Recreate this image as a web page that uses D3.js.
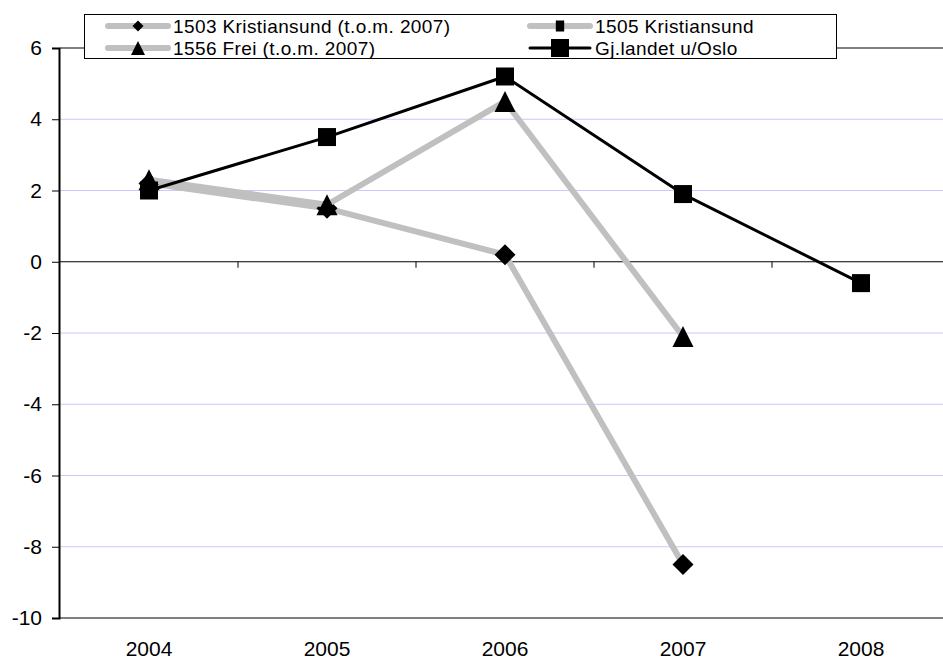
<!DOCTYPE html>
<html><head><meta charset="utf-8">
<script src="https://cdn.jsdelivr.net/npm/d3@7"></script>
<style>body{margin:0;background:#fff}svg{display:block}text{font-family:"Liberation Sans",Arial,sans-serif;fill:#000}</style>
</head><body><svg id="c" width="943" height="659"></svg>
<script>
const years = ["2004","2005","2006","2007","2008"];
const yTicks = [-10,-8,-6,-4,-2,0,2,4,6];
const k1503 = [2.2, 1.5, 0.2, -8.5, null];
const k1505 = [null, null, null, null, -0.6];
const frei1556 = [2.3, 1.6, 4.5, -2.1, null];
const gjLandet = [2.0, 3.5, 5.2, 1.9, -0.6];
const seriesNames = ["1503 Kristiansund  (t.o.m. 2007)","1505 Kristiansund","1556 Frei (t.o.m. 2007)","Gj.landet u/Oslo"];

const svg = d3.select("#c");
const L=60, T=48, B=618, band=178;
const x = d3.scaleBand().domain(years).range([L, L+band*years.length]).paddingInner(0).paddingOuter(0);
const cx = d => x(d)+x.bandwidth()/2;
const y = d3.scaleLinear().domain([-10,6]).range([B,T]);
const R = L+band*years.length;
const FS = "21px";

// gridlines
svg.append("g").selectAll("line").data(yTicks.filter(v=>v!==0 && v!==-10 && v!==6)).join("line")
  .attr("x1",L).attr("x2",R).attr("y1",d=>y(d)).attr("y2",d=>y(d))
  .attr("stroke","#c8c8ff").attr("stroke-width",1);
// top & bottom border
svg.append("line").attr("x1",L).attr("x2",R).attr("y1",y(6)).attr("y2",y(6)).attr("stroke","#808080").attr("stroke-width",2);
svg.append("line").attr("x1",L).attr("x2",R).attr("y1",y(-10)).attr("y2",y(-10)).attr("stroke","#808080").attr("stroke-width",2);

// y axis
const yAxis = d3.axisLeft(y).tickValues(yTicks).tickSize(7).tickPadding(10).tickFormat(d=>String(d));
const gy = svg.append("g").attr("transform",`translate(${L-1},0)`).call(yAxis);
gy.select(".domain").attr("stroke","#000").attr("stroke-width",2);
gy.selectAll(".tick line").attr("stroke","#000");
gy.selectAll("text").attr("font-size",FS).attr("font-family","Liberation Sans, Arial, sans-serif").attr("fill","#000");

// zero axis with ticks at category boundaries
const gx = svg.append("g").attr("transform",`translate(0,${y(0)})`);
gx.append("line").attr("x1",L).attr("x2",R).attr("stroke","#000").attr("stroke-width",1);
gx.selectAll("line.t").data(years).join("line").attr("class","t")
  .attr("x1",d=>x(d)+band).attr("x2",d=>x(d)+band).attr("y1",0).attr("y2",6).attr("stroke","#000");
// category labels at bottom
svg.append("g").selectAll("text").data(years).join("text")
  .attr("x",d=>cx(d)).attr("y",B+38).attr("text-anchor","middle").attr("font-size",FS).text(d=>d);

const line = d3.line().defined(d=>d.v!==null).x(d=>cx(d.k)).y(d=>y(d.v));
const toPts = arr => years.map((k,i)=>({k, v:arr[i]}));

function marker(g, type, px, py, s){
  if(type==="diamond"){
    g.append("path").attr("d",`M${px},${py-s/2}L${px+s/2},${py}L${px},${py+s/2}L${px-s/2},${py}Z`).attr("fill","#000");
  } else if(type==="triangle"){
    g.append("path").attr("d",`M${px},${py-s/2}L${px+s/2},${py+s/2}L${px-s/2},${py+s/2}Z`).attr("fill","#000");
  } else if(type==="square"){
    g.append("rect").attr("x",px-s/2).attr("y",py-s/2).attr("width",s).attr("height",s).attr("fill","#000");
  } else if(type==="smallsq"){
    g.append("rect").attr("x",px-s*0.38).attr("y",py-s/2).attr("width",s*0.76).attr("height",s).attr("fill","#000");
  }
}

const series = [
  {name:seriesNames[0], data:k1503, color:"#c0c0c0", w:6, m:"diamond", ms:21},
  {name:seriesNames[1], data:k1505, color:"#c0c0c0", w:6, m:"smallsq", ms:11},
  {name:seriesNames[2], data:frei1556, color:"#c0c0c0", w:6, m:"triangle", ms:21},
  {name:seriesNames[3], data:gjLandet, color:"#000", w:3, m:"square", ms:18}
];
const gs = svg.append("g");
series.forEach(s=>{
  const g = gs.append("g");
  g.append("path").datum(toPts(s.data)).attr("d",line).attr("fill","none")
   .attr("stroke",s.color).attr("stroke-width",s.w).attr("stroke-linejoin","round");
  toPts(s.data).filter(d=>d.v!==null).forEach(d=>marker(g,s.m,cx(d.k),y(d.v),s.ms));
});

// legend
const lg = svg.append("g");
lg.append("rect").attr("x",84.5).attr("y",14.5).attr("width",752).attr("height",44).attr("fill","#fff").attr("stroke","#000").attr("stroke-width",1);
const legPos = [
  {x:108, y:26, m:"diamond", ms:11},
  {x:530, y:26, m:"smallsq", ms:11},
  {x:108, y:48, m:"triangle", ms:14},
  {x:530, y:48, m:"square", ms:18}
];
series.forEach((s,i)=>{
  const p = legPos[i];
  lg.append("line").attr("x1",p.x).attr("x2",p.x+60).attr("y1",p.y).attr("y2",p.y)
    .attr("stroke",s.color).attr("stroke-width",s.w).attr("stroke-linecap","round");
  marker(lg, p.m, p.x+30, p.y, p.ms);
  lg.append("text").attr("x",p.x+65).attr("y",p.y).attr("dy","0.35em").attr("font-size","19px")
    .attr("letter-spacing","0.4px").text(s.name);
});
</script></body></html>
